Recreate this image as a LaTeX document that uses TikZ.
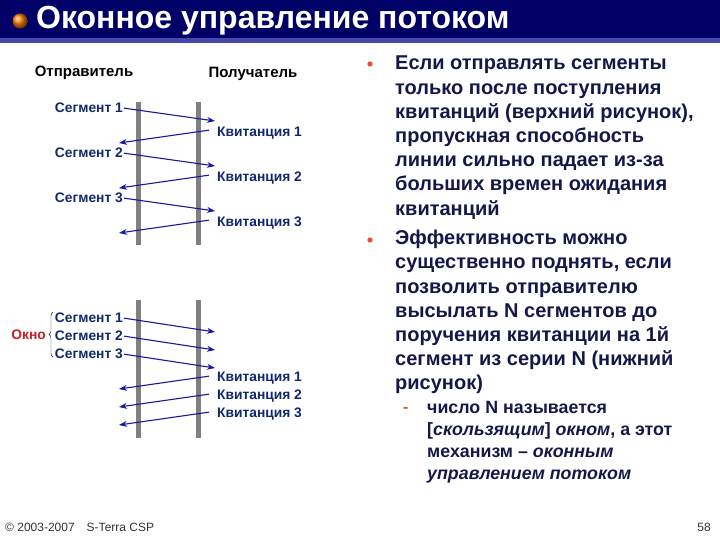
\documentclass[tikz,border=0pt]{standalone}
\usepackage{fontspec}
\setmainfont{Liberation Sans}
\usetikzlibrary{arrows.meta,calc,positioning,decorations.pathreplacing}

\definecolor{barnavy}{RGB}{0,0,102}
\definecolor{barstripe}{RGB}{72,72,170}
\definecolor{textnavy}{RGB}{20,24,72}
\definecolor{labelblue}{RGB}{16,40,110}
\definecolor{arrowblue}{RGB}{24,24,160}
\definecolor{linegray}{RGB}{128,128,128}
\definecolor{windowred}{RGB}{200,30,40}
\definecolor{dotorange}{RGB}{225,80,40}

\begin{document}
\begin{tikzpicture}[x=1pt, y=-1pt, >={Stealth[length=8pt,width=6pt]},
  lbl/.style={font=\fontsize{13.8}{15}\selectfont\bfseries, text=labelblue, inner sep=0pt},
  msg/.style={->, line width=1.1pt, arrowblue, shorten <=1pt},
  timeline/.style={linegray, line width=5pt},
  body/.style={font=\fontsize{20}{24.2}\selectfont\bfseries, text=textnavy, align=left, anchor=north west, inner sep=0pt},
  subbody/.style={font=\fontsize{17.8}{22}\selectfont\bfseries, text=textnavy, align=left, anchor=north west, inner sep=0pt},
  foot/.style={font=\fontsize{12}{14}\selectfont, text=black!80, inner sep=0pt}]

\useasboundingbox (0,0) rectangle (720,540);

% title bar
\fill[barnavy] (0,0) rectangle (720,38);
\fill[barstripe] (0,38) rectangle (720,43);
\shade[ball color=orange] (20,21) circle (7.5);
\node[anchor=west, inner sep=0pt, text=white, font=\fontsize{32}{34}\selectfont\bfseries]
  (title) at (36,21) {Оконное управление потоком};

% headings
\node[lbl, font=\fontsize{15}{17}\selectfont\bfseries, text=black] (sender) at (84,73) {Отправитель};
\node[lbl, font=\fontsize{15}{17}\selectfont\bfseries, text=black] (receiver) at (253,74) {Получатель};

% upper picture: stop-and-wait
\def\xS{138}
\def\xR{198}
\draw[timeline] (\xS,102) -- (\xS,245);
\draw[timeline] (\xR,102) -- (\xR,245);

\foreach \i/\y in {1/108, 2/153, 3/198} {
  \node[lbl, anchor=east] (seg\i) at (123,\y) {Сегмент \i};
  \coordinate (segend\i) at (215,\y+13);
  \node[lbl, anchor=west] (ack\i) at (217,\y+25) {Квитанция \i};
  \coordinate (ackstart\i) at (210,\y+22);
  \coordinate (ackend\i) at (119,\y+35);
  \draw[msg] (seg\i.east) -- (segend\i);
  \draw[msg] (ackstart\i) -- (ackend\i);
}

% lower picture: sliding window
\draw[timeline] (\xS,300) -- (\xS,438);
\draw[timeline] (\xR,300) -- (\xR,438);

\foreach \i/\y in {1/318, 2/336, 3/354} {
  \node[lbl, anchor=east] (wseg\i) at (123,\y) {Сегмент \i};
  \coordinate (wsegend\i) at (215,\y+14);
  \draw[msg] (wseg\i.east) -- (wsegend\i);
}
\foreach \i/\y in {1/378, 2/396, 3/414} {
  \node[lbl, anchor=west] (wack\i) at (217,\y) {Квитанция \i};
  \coordinate (wackstart\i) at (210,\y-2);
  \coordinate (wackend\i) at (119,\y+11);
  \draw[msg] (wackstart\i) -- (wackend\i);
}

\draw[thin, textnavy, decorate, decoration={brace, amplitude=4pt}]
  (53,357) -- (53,312);
\node[lbl, text=windowred, anchor=east] (window) at (46,335) {Окно};

% right column
\fill[dotorange] (370,64) circle (2.6);
\node[body] (para1) at (395,56)
  {Если отправлять сегменты\\
   только после поступления\\
   квитанций (верхний рисунок),\\
   пропускная способность\\
   линии сильно падает из-за\\
   больших времен ожидания\\
   квитанций};
\fill[dotorange] (370,240) circle (2.6);
\node[body] (para2) at (395,230)
  {Эффективность можно\\
   существенно поднять, если\\
   позволить отправителю\\
   высылать N сегментов до\\
   поручения квитанции на 1й\\
   сегмент из серии N (нижний\\
   рисунок)};
\node[anchor=west, inner sep=0pt, text=dotorange, font=\fontsize{16}{16}\selectfont\bfseries]
  (dash) at (403,410) {-};
\node[subbody] (para3) at (427,401)
  {число N называется\\
   {[}\textit{скользящим}{]} \textit{окном}, а этот\\
   механизм -- \textit{оконным}\\
   \textit{управлением потоком}};

% footer
\node[foot, anchor=west] (copy) at (5,527) {© 2003-2007\quad S-Terra CSP};
\node[foot, anchor=east] (page) at (711,527) {58};

\end{tikzpicture}
\end{document}
